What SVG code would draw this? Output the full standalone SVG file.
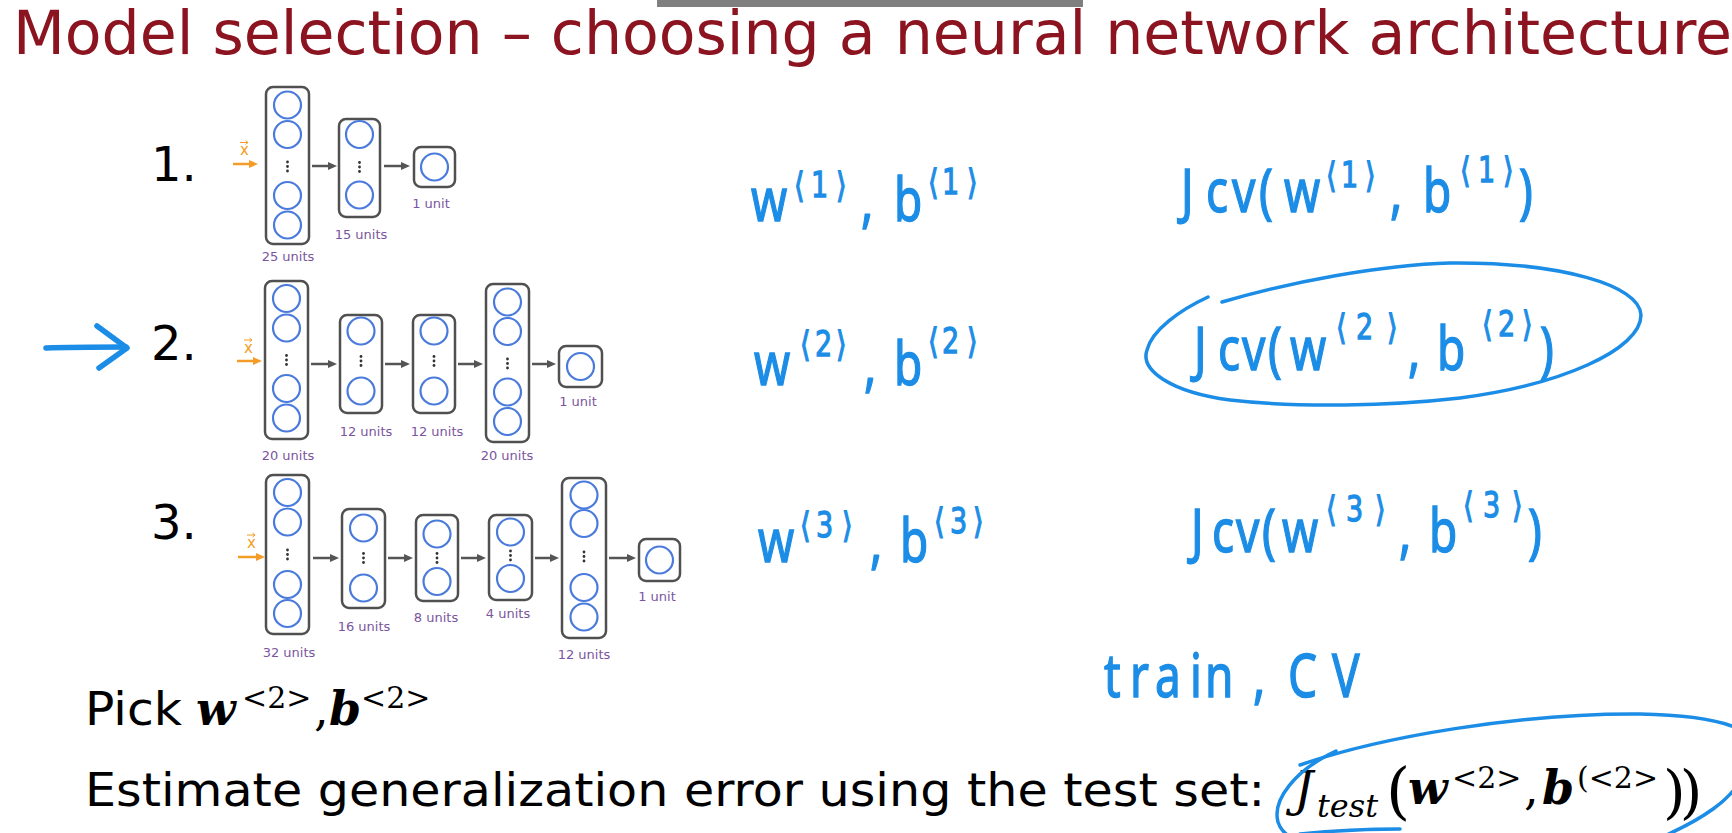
<svg xmlns="http://www.w3.org/2000/svg" width="1732" height="833" viewBox="0 0 1732 833">
<style>
.box{fill:#fff;stroke:#505050;stroke-width:2.5}
.unit{fill:none;stroke:#4a7bdc;stroke-width:2.2}
.dot{fill:#333}
.lbl{font-family:"DejaVu Sans",Verdana,sans-serif;font-size:13px;fill:#7a559e;text-anchor:middle}
.num{font-family:"DejaVu Sans",Verdana,sans-serif;font-size:48px;fill:#000}
.conn{stroke:#555;stroke-width:2.5;fill:none}
.inp{stroke:#f39c27;stroke-width:2.5;fill:none}
.xv{font-family:"DejaVu Sans",sans-serif;font-size:15px;fill:#f39c27}
.hw{font-family:"Noto Sans","DejaVu Sans",sans-serif;font-size:46px;fill:#1c8de6;stroke:#1c8de6;stroke-width:1.1}
.hs{font-family:"DejaVu Sans","Noto Sans",sans-serif;font-size:27px;fill:#1c8de6;stroke:#1c8de6;stroke-width:1}
.ink{fill:none;stroke:#1c8de6;stroke-width:3.5;stroke-linecap:round;stroke-linejoin:round}
.body{font-family:"DejaVu Sans",Verdana,sans-serif;font-size:46px;fill:#000}
.mb{font-family:"DejaVu Serif",serif;font-weight:bold;font-style:italic;font-size:46px;fill:#000}
.mi{font-family:"DejaVu Serif",serif;font-style:italic;fill:#000}
.mr{font-family:"DejaVu Serif",serif;fill:#000}
</style>
<defs>
<marker id="ah" viewBox="0 0 9 8" refX="1" refY="4" markerWidth="9" markerHeight="8" markerUnits="userSpaceOnUse" orient="auto"><path d="M0,0 L9,4 L0,8 z" fill="#555"/></marker>
<marker id="oh" viewBox="0 0 9 8" refX="1" refY="4" markerWidth="9" markerHeight="8" markerUnits="userSpaceOnUse" orient="auto"><path d="M0,0 L9,4 L0,8 z" fill="#f39c27"/></marker>
</defs>
<rect width="1732" height="833" fill="#fff"/>
<rect x="657" y="0" width="426" height="7" fill="#7f7f7f"/>
<g id="title"><text x="13" y="54" font-family="DejaVu Sans, Verdana, sans-serif" font-size="60" fill="#8c1420" textLength="1719" lengthAdjust="spacingAndGlyphs">Model selection – choosing a neural network architecture</text></g>

<!-- Network 1 -->
<g id="net1-label"><text class="num" x="151" y="181">1.</text></g>
<g id="net1-input"><text class="xv" x="240" y="155">x</text><path d="M240,142.5 h8 m-2.5,-2 l2.5,2 l-2.5,2" stroke="#f39c27" stroke-width="1" fill="none"/></g>
<g id="net1-l1"><rect class="box" x="266" y="87" width="43" height="157" rx="7"/>
<circle class="unit" cx="287.5" cy="105" r="13.5"/><circle class="unit" cx="287.5" cy="134.5" r="13.5"/><circle class="unit" cx="287.5" cy="195.5" r="13.5"/><circle class="unit" cx="287.5" cy="225" r="13.5"/>
<circle class="dot" cx="287.5" cy="162" r="1.4"/><circle class="dot" cx="287.5" cy="166.5" r="1.4"/><circle class="dot" cx="287.5" cy="171" r="1.4"/>
<text class="lbl" x="288" y="261">25 units</text></g>
<g id="net1-l2"><rect class="box" x="339" y="119" width="41" height="98" rx="7"/>
<circle class="unit" cx="359.5" cy="134.5" r="13.5"/><circle class="unit" cx="359.5" cy="195" r="13.5"/>
<circle class="dot" cx="359.5" cy="162.5" r="1.4"/><circle class="dot" cx="359.5" cy="167" r="1.4"/><circle class="dot" cx="359.5" cy="171.5" r="1.4"/>
<text class="lbl" x="361" y="239">15 units</text></g>
<g id="net1-l3"><rect class="box" x="414" y="147" width="41" height="40" rx="7"/>
<circle class="unit" cx="434.5" cy="167" r="13.5"/>
<text class="lbl" x="431" y="208">1 unit</text></g>

<!-- Network 2 -->
<g id="net2-label"><text class="num" x="151" y="360">2.</text></g>
<g id="net2-input"><text class="xv" x="244" y="353">x</text><path d="M244,340 h8 m-2.5,-2 l2.5,2 l-2.5,2" stroke="#f39c27" stroke-width="1" fill="none"/></g>
<g id="net2-l1"><rect class="box" x="265" y="281" width="43" height="158" rx="7"/>
<circle class="unit" cx="286.5" cy="298.5" r="13.5"/><circle class="unit" cx="286.5" cy="328" r="13.5"/><circle class="unit" cx="286.5" cy="388.5" r="13.5"/><circle class="unit" cx="286.5" cy="418" r="13.5"/>
<circle class="dot" cx="286.5" cy="355.5" r="1.4"/><circle class="dot" cx="286.5" cy="360" r="1.4"/><circle class="dot" cx="286.5" cy="364.5" r="1.4"/>
<text class="lbl" x="288" y="460">20 units</text></g>
<g id="net2-l2"><rect class="box" x="340" y="315" width="42" height="98" rx="7"/>
<circle class="unit" cx="361" cy="331" r="13.5"/><circle class="unit" cx="361" cy="391" r="13.5"/>
<circle class="dot" cx="361" cy="356.5" r="1.4"/><circle class="dot" cx="361" cy="361" r="1.4"/><circle class="dot" cx="361" cy="365.5" r="1.4"/>
<text class="lbl" x="366" y="436">12 units</text></g>
<g id="net2-l3"><rect class="box" x="413" y="315" width="42" height="98" rx="7"/>
<circle class="unit" cx="434" cy="331" r="13.5"/><circle class="unit" cx="434" cy="391" r="13.5"/>
<circle class="dot" cx="434" cy="356.5" r="1.4"/><circle class="dot" cx="434" cy="361" r="1.4"/><circle class="dot" cx="434" cy="365.5" r="1.4"/>
<text class="lbl" x="437" y="436">12 units</text></g>
<g id="net2-l4"><rect class="box" x="486" y="284" width="43" height="158" rx="7"/>
<circle class="unit" cx="507.5" cy="302" r="13.5"/><circle class="unit" cx="507.5" cy="331.5" r="13.5"/><circle class="unit" cx="507.5" cy="392" r="13.5"/><circle class="unit" cx="507.5" cy="421.5" r="13.5"/>
<circle class="dot" cx="507.5" cy="359" r="1.4"/><circle class="dot" cx="507.5" cy="363.5" r="1.4"/><circle class="dot" cx="507.5" cy="368" r="1.4"/>
<text class="lbl" x="507" y="460">20 units</text></g>
<g id="net2-l5"><rect class="box" x="559" y="346" width="43" height="41" rx="7"/>
<circle class="unit" cx="580.5" cy="366.5" r="13.5"/>
<text class="lbl" x="578" y="406">1 unit</text></g>

<!-- Network 3 -->
<g id="net3-label"><text class="num" x="151" y="539">3.</text></g>
<g id="net3-input"><text class="xv" x="247" y="548">x</text><path d="M247,535 h8 m-2.5,-2 l2.5,2 l-2.5,2" stroke="#f39c27" stroke-width="1" fill="none"/></g>
<g id="net3-l1"><rect class="box" x="266" y="475" width="43" height="159" rx="7"/>
<circle class="unit" cx="287.5" cy="492.5" r="13.5"/><circle class="unit" cx="287.5" cy="522" r="13.5"/><circle class="unit" cx="287.5" cy="584.5" r="13.5"/><circle class="unit" cx="287.5" cy="613.5" r="13.5"/>
<circle class="dot" cx="287.5" cy="550" r="1.4"/><circle class="dot" cx="287.5" cy="554.5" r="1.4"/><circle class="dot" cx="287.5" cy="559" r="1.4"/>
<text class="lbl" x="289" y="657">32 units</text></g>
<g id="net3-l2"><rect class="box" x="342" y="509" width="43" height="99" rx="7"/>
<circle class="unit" cx="363.5" cy="528" r="13.5"/><circle class="unit" cx="363.5" cy="588" r="13.5"/>
<circle class="dot" cx="363.5" cy="553.5" r="1.4"/><circle class="dot" cx="363.5" cy="558" r="1.4"/><circle class="dot" cx="363.5" cy="562.5" r="1.4"/>
<text class="lbl" x="364" y="631">16 units</text></g>
<g id="net3-l3"><rect class="box" x="416" y="515" width="42" height="86" rx="7"/>
<circle class="unit" cx="437" cy="534" r="13.5"/><circle class="unit" cx="437" cy="581.5" r="13.5"/>
<circle class="dot" cx="437" cy="553.5" r="1.4"/><circle class="dot" cx="437" cy="558" r="1.4"/><circle class="dot" cx="437" cy="562.5" r="1.4"/>
<text class="lbl" x="436" y="622">8 units</text></g>
<g id="net3-l4"><rect class="box" x="489" y="515" width="43" height="85" rx="7"/>
<circle class="unit" cx="510.5" cy="532" r="13.5"/><circle class="unit" cx="510.5" cy="578.5" r="13.5"/>
<circle class="dot" cx="510.5" cy="551" r="1.4"/><circle class="dot" cx="510.5" cy="555.5" r="1.4"/><circle class="dot" cx="510.5" cy="560" r="1.4"/>
<text class="lbl" x="508" y="618">4 units</text></g>
<g id="net3-l5"><rect class="box" x="562" y="478" width="44" height="160" rx="7"/>
<circle class="unit" cx="584" cy="495" r="13.5"/><circle class="unit" cx="584" cy="523.5" r="13.5"/><circle class="unit" cx="584" cy="587.5" r="13.5"/><circle class="unit" cx="584" cy="617" r="13.5"/>
<circle class="dot" cx="584" cy="552" r="1.4"/><circle class="dot" cx="584" cy="556.5" r="1.4"/><circle class="dot" cx="584" cy="561" r="1.4"/>
<text class="lbl" x="584" y="659">12 units</text></g>
<g id="net3-l6"><rect class="box" x="639" y="539" width="41" height="42" rx="7"/>
<circle class="unit" cx="659.5" cy="560" r="13.5"/>
<text class="lbl" x="657" y="601">1 unit</text></g>

<g id="connectors">
<line class="inp" x1="233" y1="164" x2="250" y2="164" marker-end="url(#oh)"/>
<line class="conn" x1="312" y1="166" x2="329" y2="166" marker-end="url(#ah)"/>
<line class="conn" x1="384" y1="166" x2="402" y2="166" marker-end="url(#ah)"/>
<line class="inp" x1="237" y1="361" x2="254" y2="361" marker-end="url(#oh)"/>
<line class="conn" x1="311" y1="364" x2="329" y2="364" marker-end="url(#ah)"/>
<line class="conn" x1="385" y1="364" x2="402" y2="364" marker-end="url(#ah)"/>
<line class="conn" x1="458" y1="364" x2="475" y2="364" marker-end="url(#ah)"/>
<line class="conn" x1="532" y1="364" x2="548" y2="364" marker-end="url(#ah)"/>
<line class="inp" x1="238" y1="557" x2="257" y2="557" marker-end="url(#oh)"/>
<line class="conn" x1="313" y1="558" x2="331" y2="558" marker-end="url(#ah)"/>
<line class="conn" x1="388" y1="558" x2="405" y2="558" marker-end="url(#ah)"/>
<line class="conn" x1="461" y1="558" x2="478" y2="558" marker-end="url(#ah)"/>
<line class="conn" x1="535" y1="558" x2="551" y2="558" marker-end="url(#ah)"/>
<line class="conn" x1="609" y1="558" x2="628" y2="558" marker-end="url(#ah)"/>
</g>

<!-- handwritten annotations -->
<g id="pointer"><path d="M46,348 C70,347 100,347 126,347" fill="none" stroke="#1c8de6" stroke-width="5.5" stroke-linecap="round"/><path d="M97,326 L127,348 L99,368" fill="none" stroke="#1c8de6" stroke-width="5.5" stroke-linecap="round" stroke-linejoin="round"/></g>

<g id="params1" transform="translate(0,221) scale(1,1.3)">
<text class="hw" y="0"><tspan x="751">w</tspan><tspan x="861">,</tspan><tspan x="894">b</tspan></text>
<text class="hs"><tspan x="794" y="-18.5">⟨</tspan><tspan x="811" y="-18.5">1</tspan><tspan x="836" y="-18.5">⟩</tspan><tspan x="928" y="-21">⟨</tspan><tspan x="942" y="-21">1</tspan><tspan x="967" y="-21">⟩</tspan></text>
</g>
<g id="jcv1" transform="translate(0,212) scale(1,1.3)">
<text class="hw" y="0"><tspan x="1181">J</tspan><tspan x="1206">c</tspan><tspan x="1232">v</tspan><tspan x="1259">(</tspan><tspan x="1284">w</tspan><tspan x="1390">,</tspan><tspan x="1423">b</tspan><tspan x="1519">)</tspan></text>
<text class="hs"><tspan x="1326" y="-19">⟨</tspan><tspan x="1341" y="-19">1</tspan><tspan x="1365" y="-19">⟩</tspan><tspan x="1460" y="-23">⟨</tspan><tspan x="1478" y="-23">1</tspan><tspan x="1503" y="-23">⟩</tspan></text>
</g>
<g id="params2" transform="translate(0,385) scale(1,1.3)">
<text class="hw" y="0"><tspan x="754">w</tspan><tspan x="864">,</tspan><tspan x="894">b</tspan></text>
<text class="hs"><tspan x="800" y="-22">⟨</tspan><tspan x="815" y="-22">2</tspan><tspan x="836" y="-22">⟩</tspan><tspan x="928" y="-25">⟨</tspan><tspan x="942" y="-25">2</tspan><tspan x="967" y="-25">⟩</tspan></text>
</g>
<g id="jcv2" transform="translate(0,370) scale(1,1.3)">
<text class="hw" y="0"><tspan x="1194">J</tspan><tspan x="1218">c</tspan><tspan x="1242">v</tspan><tspan x="1268">(</tspan><tspan x="1290">w</tspan><tspan x="1408">,</tspan><tspan x="1437">b</tspan><tspan x="1540">)</tspan></text>
<text class="hs"><tspan x="1336" y="-23.5">⟨</tspan><tspan x="1356" y="-23.5">2</tspan><tspan x="1387" y="-23.5">⟩</tspan><tspan x="1482" y="-26">⟨</tspan><tspan x="1498" y="-26">2</tspan><tspan x="1522" y="-26">⟩</tspan></text>
</g>
<g id="params3" transform="translate(0,562) scale(1,1.3)">
<text class="hw" y="0"><tspan x="758">w</tspan><tspan x="870">,</tspan><tspan x="900">b</tspan></text>
<text class="hs"><tspan x="800" y="-19">⟨</tspan><tspan x="816" y="-19">3</tspan><tspan x="842" y="-19">⟩</tspan><tspan x="934" y="-22">⟨</tspan><tspan x="950" y="-22">3</tspan><tspan x="973" y="-22">⟩</tspan></text>
</g>
<g id="jcv3" transform="translate(0,552) scale(1,1.3)">
<text class="hw" y="0"><tspan x="1191">J</tspan><tspan x="1212">c</tspan><tspan x="1236">v</tspan><tspan x="1262">(</tspan><tspan x="1282">w</tspan><tspan x="1399">,</tspan><tspan x="1429">b</tspan><tspan x="1528">)</tspan></text>
<text class="hs"><tspan x="1326" y="-23.5">⟨</tspan><tspan x="1346" y="-23.5">3</tspan><tspan x="1375" y="-23.5">⟩</tspan><tspan x="1463" y="-27">⟨</tspan><tspan x="1483" y="-27">3</tspan><tspan x="1512" y="-27">⟩</tspan></text>
</g>
<g id="train-cv" transform="translate(0,697) scale(1,1.3)">
<text class="hw" y="0"><tspan x="1104">t</tspan><tspan x="1130">r</tspan><tspan x="1155">a</tspan><tspan x="1190">i</tspan><tspan x="1205">n</tspan><tspan x="1253">,</tspan><tspan x="1288">C</tspan><tspan x="1332">V</tspan></text>
</g>
<g id="circle-jcv2"><path class="ink" d="M1222,302 C1290,282 1380,265 1450,263 C1560,262 1640,285 1641,315 C1641,350 1560,385 1460,398 C1390,406 1300,408 1230,400 C1170,392 1140,370 1147,350 C1152,330 1180,310 1208,297"/></g>

<!-- bottom text -->
<g id="pick">
<text class="body" x="85" y="725" textLength="97" lengthAdjust="spacingAndGlyphs">Pick</text>
<text class="mb" x="196" y="725" font-size="50">w</text>
<text class="mr" x="242" y="708" font-size="30">&lt;2&gt;</text>
<text class="mr" x="314" y="725" font-size="46">,</text>
<text class="mb" x="329" y="725">b</text>
<text class="mr" x="361" y="708" font-size="30">&lt;2&gt;</text>
</g>
<g id="estimate">
<text class="body" x="85" y="806" textLength="1180" lengthAdjust="spacingAndGlyphs">Estimate generalization error using the test set:</text>
<text class="mi" x="1294" y="806" font-size="48">J</text>
<text class="mi" x="1317" y="817" font-size="32">test</text>
<text class="mr" x="1386" y="812" font-size="62">(</text>
<text class="mb" x="1408" y="804">w</text>
<text class="mr" x="1452" y="788" font-size="30">&lt;2&gt;</text>
<text class="mr" x="1524" y="804" font-size="46">,</text>
<text class="mb" x="1542" y="804">b</text>
<text class="mr" x="1577" y="788" font-size="30">(&lt;2&gt;</text>
<text class="mr" x="1663" y="812" font-size="58" letter-spacing="-6">))</text>
</g>
<g id="circle-jtest">
<path class="ink" d="M1300,765 C1380,737 1520,713 1640,714 C1695,715 1728,722 1745,732"/>
<path class="ink" d="M1336,751 C1295,770 1272,800 1278,822 C1281,832 1290,838 1300,842"/>
<path class="ink" d="M1742,778 C1730,800 1705,818 1660,838"/>
<path class="ink" d="M1300,834 C1340,830 1370,829 1400,829"/>
</g>
</svg>
